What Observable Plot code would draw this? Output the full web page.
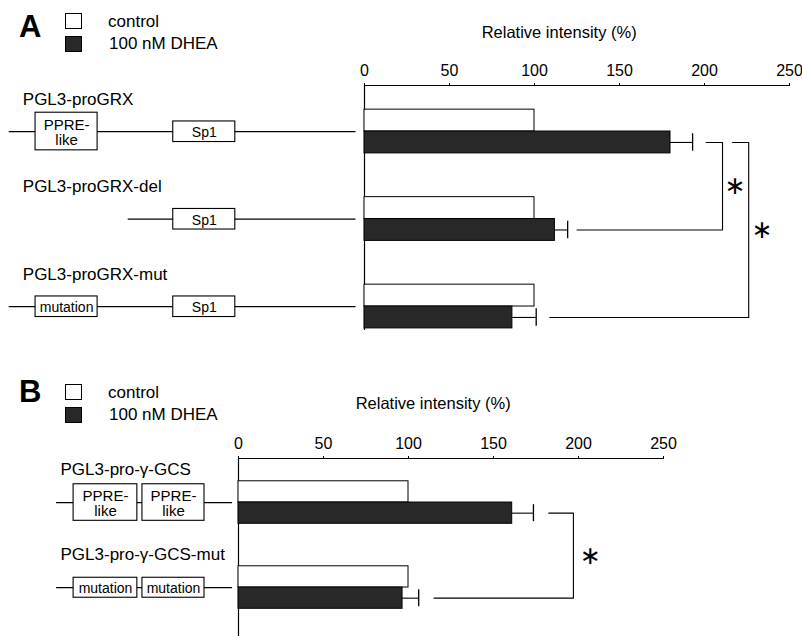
<!DOCTYPE html>
<html><head><meta charset="utf-8">
<script src="https://cdn.jsdelivr.net/npm/d3@7"></script>
<script src="https://cdn.jsdelivr.net/npm/@observablehq/plot@0.6"></script>
<style>
body{margin:0;background:#fff;font-family:"Liberation Sans",Arial,sans-serif;color:#000;}
#fig{position:relative;width:802px;height:636px;overflow:hidden;background:#fff;}
.panel{position:absolute;left:0;}
.letter{position:absolute;font-weight:bold;font-size:31px;line-height:1;}
.leg{position:absolute;font-size:17px;line-height:1;white-space:nowrap;}
.sw{position:absolute;width:17px;height:16px;border:1px solid #000;box-sizing:border-box;}
</style></head><body><div id="fig"></div>
<script>
// ---------- data ----------
const series = ["control", "100 nM DHEA"];
const seriesColors = ["#ffffff", "#282828"];
const xTicks = [0, 50, 100, 150, 200, 250];
const axisTitle = "Relative intensity (%)";

// Panel A
const constructsA = ["PGL3-proGRX", "PGL3-proGRX-del", "PGL3-proGRX-mut"];
const controlA = [100, 100, 100];
const dheaA = [180, 112, 87];
const errA = [13, 7.5, 14];
// promoter diagrams (x in the same units as the bar axis, left of 0)
const dnaLinesA = [{row: 0, x1: -209, x2: -5}, {row: 1, x1: -139, x2: -5}, {row: 2, x1: -209, x2: -5}];
const elementsA = [
  {row: 0, label: "PPRE-\nlike", x1: -193.5, x2: -157, tall: true},
  {row: 0, label: "Sp1", x1: -112.5, x2: -76},
  {row: 1, label: "Sp1", x1: -112.5, x2: -76},
  {row: 2, label: "mutation", x1: -193.5, x2: -157},
  {row: 2, label: "Sp1", x1: -112.5, x2: -76}
];
const signifA = [
  {from: 0, to: 1, xTop: 201, xBot: 125, xV: 210.6, xStar: 218},
  {from: 0, to: 2, xTop: 216.5, xBot: 109, xV: 226, xStar: 234}
];

// Panel B
const constructsB = ["PGL3-pro-\u03b3-GCS", "PGL3-pro-\u03b3-GCS-mut"];
const controlB = [100, 100];
const dheaB = [161, 96.5];
const errB = [12.5, 9.5];
const dnaLinesB = [{row: 0, x1: -107, x2: -3.5}, {row: 1, x1: -107, x2: -3.5}];
const elementsB = [
  {row: 0, label: "PPRE-\nlike", x1: -97, x2: -59.5, tall: true},
  {row: 0, label: "PPRE-\nlike", x1: -56.5, x2: -20, tall: true},
  {row: 1, label: "mutation", x1: -97, x2: -59.5},
  {row: 1, label: "mutation", x1: -56.5, x2: -20}
];
const signifB = [
  {from: 0, to: 1, xTop: 182.5, xBot: 115, xV: 197, xStar: 207}
];

// ---------- drawing ----------
const FONT = "Liberation Sans, Arial, Helvetica, sans-serif";
const BAR = 0.25;

function panel(cfg) {
  const {constructs, control, dhea, err, dnaLines, elements, signif,
         left, top, height, yTop, yBot, labelX, labelDy, titleX, titleY} = cfg;
  const bars = constructs.flatMap((c, i) => [
    {c, i, series: series[0], value: control[i], y1: i - BAR, y2: i},
    {c, i, series: series[1], value: dhea[i], y1: i, y2: i + BAR}
  ]);
  const errs = constructs.map((c, i) => ({i, y: i + BAR / 2, x1: dhea[i], x2: dhea[i] + err[i]}));
  const brk = signif.flatMap((s, k) => {
    const yA = s.from + BAR / 2, yB = s.to + BAR / 2;
    return [
      {k, x: s.xTop, y: yA}, {k, x: s.xV, y: yA},
      {k, x: s.xV, y: yB}, {k, x: s.xBot, y: yB}
    ];
  });
  const stars = signif.map(s => ({x: s.xStar, y: (s.from + s.to) / 2 + BAR / 2}));
  const bottomMargin = 0;
  return Plot.plot({
    width: 802,
    height,
    marginLeft: left,
    marginRight: 802 - left - 425,
    marginTop: top,
    marginBottom: bottomMargin,
    style: {fontFamily: FONT, background: "transparent", overflow: "visible"},
    x: {domain: [0, 250], range: [left, left + 425]},
    y: {domain: [yTop, yBot], range: [top, height - bottomMargin], axis: null},
    color: {domain: series, range: seriesColors},
    marks: [
      // axes
      Plot.ruleY([yTop], {x1: 0, x2: 250, stroke: "#000", strokeWidth: 1.2}),
      Plot.ruleX([0], {y1: yTop, y2: yBot, stroke: "#000", strokeWidth: 1.2}),
      Plot.axisX({anchor: "top", ticks: xTicks, tickSize: 3, tickPadding: 7,
                  tickFormat: d3.format("d"), fontSize: 16, label: null, stroke: "#000"}),
      Plot.text([axisTitle], {x: titleX, y: titleY, text: d => d, fontSize: 16.5, fill: "#000"}),
      // bars
      Plot.rect(bars, {x1: 0, x2: "value", y1: "y1", y2: "y2", fill: "series", stroke: "#000", strokeWidth: 1}),
      // error bars
      Plot.ruleY(errs, {y: "y", x1: "x1", x2: "x2", stroke: "#000", strokeWidth: 1.1}),
      Plot.ruleX(errs, {x: "x2", y1: d => d.y - 0.1, y2: d => d.y + 0.1, stroke: "#000", strokeWidth: 1.3}),
      // significance brackets
      Plot.line(brk, {x: "x", y: "y", z: "k", stroke: "#000", strokeWidth: 1.1}),
      Plot.text(stars, {x: "x", y: "y", text: () => "\u2217", fontSize: 25, fontFamily: "DejaVu Sans", fill: "#000"}),
      // construct labels
      Plot.text(constructs, {x: labelX, y: (d, i) => i + labelDy, text: d => d, textAnchor: "start", fontSize: 17, fill: "#000"}),
      // promoter diagrams
      Plot.ruleY(dnaLines, {y: "row", x1: "x1", x2: "x2", stroke: "#000", strokeWidth: 1.2}),
      Plot.rect(elements, {x1: "x1", x2: "x2",
        y1: d => d.row - (d.tall ? 0.215 : 0.115), y2: d => d.row + (d.tall ? 0.215 : 0.12),
        fill: "#fff", stroke: "#000", strokeWidth: 1.1}),
      Plot.text(elements, {x: d => (d.x1 + d.x2) / 2, y: d => d.row + 0.01, text: "label",
        fontSize: d => d.tall ? 15 : 14, lineHeight: 1.05, fill: "#000"})
    ]
  });
}

const fig = document.getElementById("fig");

function addPanel(svg, top) {
  const d = document.createElement("div");
  d.className = "panel";
  d.style.top = top + "px";
  d.appendChild(svg);
  fig.appendChild(d);
}

addPanel(panel({
  constructs: constructsA, control: controlA, dhea: dheaA, err: errA,
  dnaLines: dnaLinesA, elements: elementsA, signif: signifA,
  left: 364, top: 85, height: 330, yTop: -0.526, yBot: 2.274,
  labelX: -201, labelDy: -0.37, titleX: 114.5, titleY: -1.13
}), 0);

addPanel(panel({
  constructs: constructsB, control: controlB, dhea: dheaB, err: errB,
  dnaLines: dnaLinesB, elements: elementsB, signif: signifB,
  left: 238, top: 118, height: 296, yTop: -0.518, yBot: 1.576,
  labelX: -104.7, labelDy: -0.385, titleX: 114.5, titleY: -1.16
}), 340);

// panel letters and legends
function addLegend(letter, letterTop, top) {
  const L = document.createElement("div");
  L.className = "letter"; L.textContent = letter;
  L.style.left = "19px"; L.style.top = letterTop + "px";
  fig.appendChild(L);
  series.forEach((s, i) => {
    const sw = document.createElement("div");
    sw.className = "sw";
    sw.style.left = "65px"; sw.style.top = (top + i * 22.5) + "px";
    sw.style.background = seriesColors[i];
    fig.appendChild(sw);
    const t = document.createElement("div");
    t.className = "leg"; t.textContent = s;
    t.style.left = (i === 0 ? 108 : 109) + "px";
    t.style.top = (top - 0.5 + i * 22.5) + "px";
    fig.appendChild(t);
  });
}
addLegend("A", 11, 13);
addLegend("B", 376, 384);
</script></body></html>
